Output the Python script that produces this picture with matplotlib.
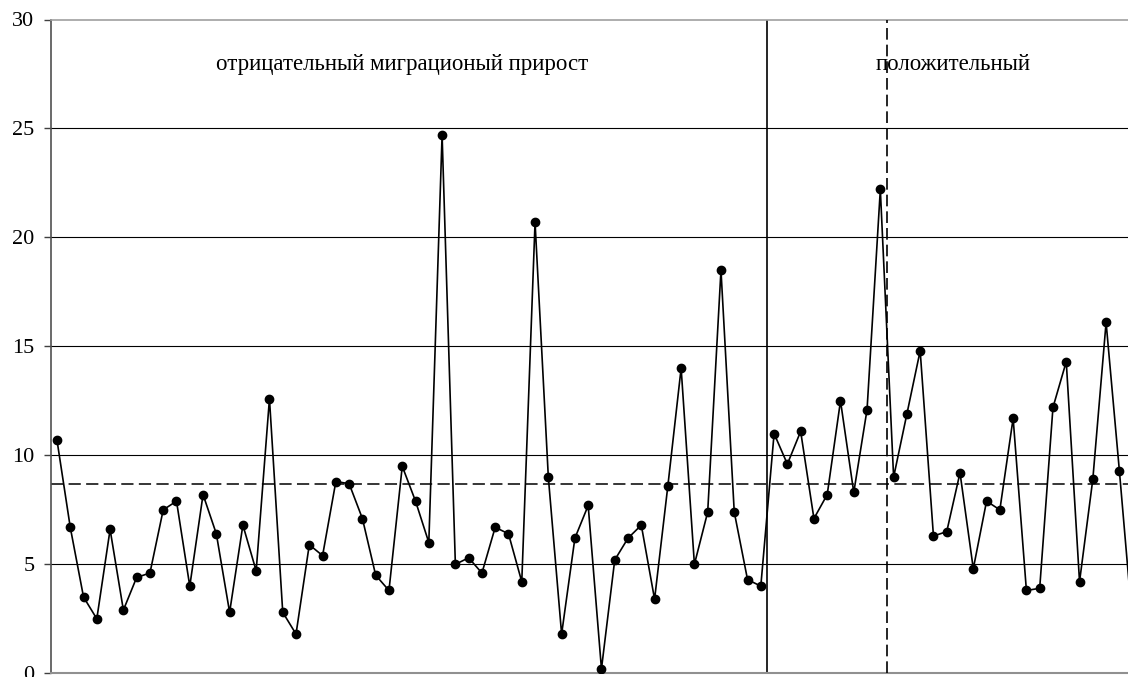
import matplotlib
matplotlib.use('Agg')
import matplotlib.pyplot as plt
import numpy as np

plt.rcParams['font.family'] = ['Liberation Serif', 'DejaVu Serif']

# values (one point per period)
values = [10.7, 6.7, 3.5, 2.5, 6.6, 2.9, 4.4, 4.6, 7.5, 7.9,
          4.0, 8.2, 6.4, 2.8, 6.8, 4.7, 12.6, 2.8, 1.8, 5.9,
          5.4, 8.8, 8.7, 7.1, 4.5, 3.8, 9.5, 7.9, 6.0, 24.7,
          5.0, 5.3, 4.6, 6.7, 6.4, 4.2, 20.7, 9.0, 1.8, 6.2,
          7.7, 0.2, 5.2, 6.2, 6.8, 3.4, 8.6, 14.0, 5.0, 7.4,
          18.5, 7.4, 4.3, 4.0, 11.0, 9.6, 11.1, 7.1, 8.2, 12.5,
          8.3, 12.1, 22.2, 9.0, 11.9, 14.8, 6.3, 6.5, 9.2, 4.8,
          7.9, 7.5, 11.7, 3.8, 3.9, 12.2, 14.3, 4.2, 8.9, 16.1,
          9.3, 2.2]
mean_level = 8.7
split_solid = 53.5    # boundary negative / positive
split_dashed = 62.5
label_neg = 'отрицательный миграционый прирост'
label_pos = 'положительный'
yticks = [0, 5, 10, 15, 20, 25, 30]

x = np.arange(len(values))

fig = plt.figure(figsize=(11.28, 6.77), dpi=100)
ax = fig.add_axes([51/1128, 3.7/677, 1 - 51/1128, 653.8/677])

#horizontal grid
for yv in yticks[1:-1]:
    ax.axhline(yv, color='black', lw=0.8, zorder=1)

#mean line and region separators
ax.axhline(mean_level, color='black', lw=1.1, dashes=(8, 3.5), zorder=2)
ax.axvline(split_solid, color='black', lw=1.2, zorder=2)
ax.axvline(split_dashed, color='black', lw=1.2, dashes=(7, 3), zorder=4)

#data series
ax.plot(x, values, color='black', lw=1.2, marker='o', markersize=6, zorder=3)

ax.text(26.0, 27.66, label_neg, ha='center', va='baseline', fontsize=16.5)
ax.text(67.5, 27.66, label_pos, ha='center', va='baseline', fontsize=16.5)

ax.set_xlim(-0.45, 80.65)
ax.set_ylim(0, 30)
ax.set_yticks(yticks)
ax.set_xticks([])
ax.tick_params(axis='y', length=5, width=1, pad=7, labelsize=16, color='#404040')

ax.spines['right'].set_visible(False)
ax.spines['left'].set_color('#505050')
ax.spines['left'].set_linewidth(1.2)
ax.spines['top'].set_color('#a0a0a0')
ax.spines['top'].set_linewidth(1.2)
ax.spines['bottom'].set_color('#909090')
ax.spines['bottom'].set_linewidth(1.5)

fig.savefig('out.png', dpi=100)
